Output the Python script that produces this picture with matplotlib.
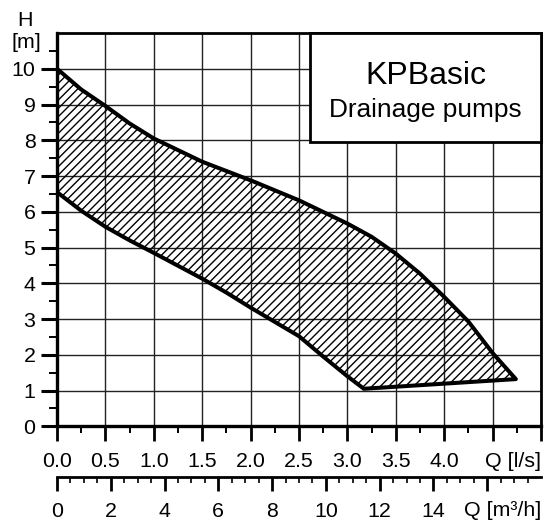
import matplotlib
matplotlib.use("Agg")
import matplotlib.pyplot as plt
import numpy as np
from matplotlib.patches import Rectangle
from matplotlib.transforms import blended_transform_factory

plt.rcParams['font.family'] = ['Liberation Sans', 'DejaVu Sans']

# operating range of the KPBasic pumps
upper_q = [0.0, 0.25, 0.5, 0.75, 1.0, 1.5, 2.0, 2.5, 3.0, 3.25, 3.5, 3.75, 4.0, 4.25, 4.5, 4.74]
upper_h = [10.0, 9.42, 8.96, 8.47, 8.05, 7.40, 6.88, 6.32, 5.67, 5.30, 4.83, 4.27, 3.62, 2.93, 2.05, 1.32]
lower_q = [0.0, 0.25, 0.5, 0.75, 1.0, 1.5, 1.75, 2.0, 2.25, 2.5, 2.75, 3.0, 3.17]
lower_h = [6.55, 6.03, 5.58, 5.20, 4.85, 4.13, 3.74, 3.32, 2.92, 2.52, 1.95, 1.40, 1.05]

q_ticks = [0.0, 0.5, 1.0, 1.5, 2.0, 2.5, 3.0, 3.5, 4.0]
h_ticks = list(range(0, 11))
m3h_ticks = [0, 2, 4, 6, 8, 10, 12, 14]

title = "KPBasic"
subtitle = "Drainage pumps"

W, H = 548, 525
fs = 15.4
fig = plt.figure(figsize=(W / 100, H / 100), dpi=100)

x0, x1, y_top, y_bot = 57, 541, 33, 426.3
ax = fig.add_axes([x0 / W, 1 - y_bot / H, (x1 - x0) / W, (y_bot - y_top) / H])
ax.set_xlim(0, 5)
ax.set_ylim(0, 11)

# hatched area
poly_q = upper_q + lower_q[::-1]
poly_h = upper_h + lower_h[::-1]
ax.fill(poly_q, poly_h, facecolor='none', edgecolor='black', hatch='////',
        linewidth=2.9, joinstyle='round', zorder=3)

# grid
ax.set_xticks(np.arange(0, 5.01, 0.5))
ax.set_xticklabels([f"{v:.1f}" for v in q_ticks] + ['', ''])
ax.set_xticks(np.arange(0.25, 5, 0.5), minor=True)
ax.set_yticks(h_ticks)
ax.set_yticklabels([str(v) for v in h_ticks])
ax.set_yticks(np.arange(0.5, 11, 1), minor=True)
ax.grid(True, which='major', color='#222222', linewidth=1.0, zorder=1)
ax.set_axisbelow(True)

for side in ['left', 'bottom']:
    ax.spines[side].set_linewidth(2.4)
for side in ['top', 'right']:
    ax.spines[side].set_linewidth(2.0)

ax.tick_params(axis='y', which='major', direction='out', length=11.5, width=2.2,
               pad=4, labelsize=fs)
ax.tick_params(axis='y', which='minor', direction='out', length=5.8, width=1.4)
ax.tick_params(axis='x', which='major', direction='out', length=10.8, width=2.0,
               pad=8, labelsize=fs)
ax.tick_params(axis='x', which='minor', direction='out', length=5, width=1.4)

ax.text(5.0, 1 - 461.7 / H, "Q [l/s]", fontsize=fs, ha='right', va='center',
        transform=blended_transform_factory(ax.transData, fig.transFigure))

fig.text(25 / W, 1 - 20 / H, "H", fontsize=fs, ha='center', va='center')
fig.text(26 / W, 1 - 42 / H, "[m]", fontsize=fs, ha='center', va='center')

# title box
box = Rectangle((2.61, 7.95), 5.0 - 2.61, 11 - 7.95, facecolor='white',
                edgecolor='black', linewidth=2.0, zorder=4, clip_on=False)
ax.add_patch(box)
ax.text(3.81, 9.58, title, fontsize=23, ha='center', va='baseline', zorder=5)
ax.text(3.81, 8.65, subtitle, fontsize=18.9, ha='center', va='baseline', zorder=5)

# second axis in m3/h
y_line = 477.3
ax2 = fig.add_axes([x0 / W, 1 - y_line / H, (x1 - x0) / W, 1e-4])
ax2.set_xlim(0, 18)
ax2.set_yticks([])
for side in ['top', 'left', 'right']:
    ax2.spines[side].set_visible(False)
ax2.spines['bottom'].set_linewidth(2.0)
ax2.patch.set_visible(False)
ax2.set_xticks(np.arange(0, 17, 2))
ax2.set_xticklabels([str(v) for v in m3h_ticks] + [''])
ax2.set_xticks([v for v in np.arange(0.5, 18, 0.5) if v % 2 != 0], minor=True)
ax2.tick_params(axis='x', which='major', direction='out', length=10, width=2.0,
                pad=8, labelsize=fs)
ax2.tick_params(axis='x', which='minor', direction='out', length=4.3, width=1.2)
ax2.text(18, 1 - 510.7 / H, "Q [m³/h]", fontsize=fs, ha='right', va='center',
         transform=blended_transform_factory(ax2.transData, fig.transFigure))

fig.savefig("out.png", dpi=100)
